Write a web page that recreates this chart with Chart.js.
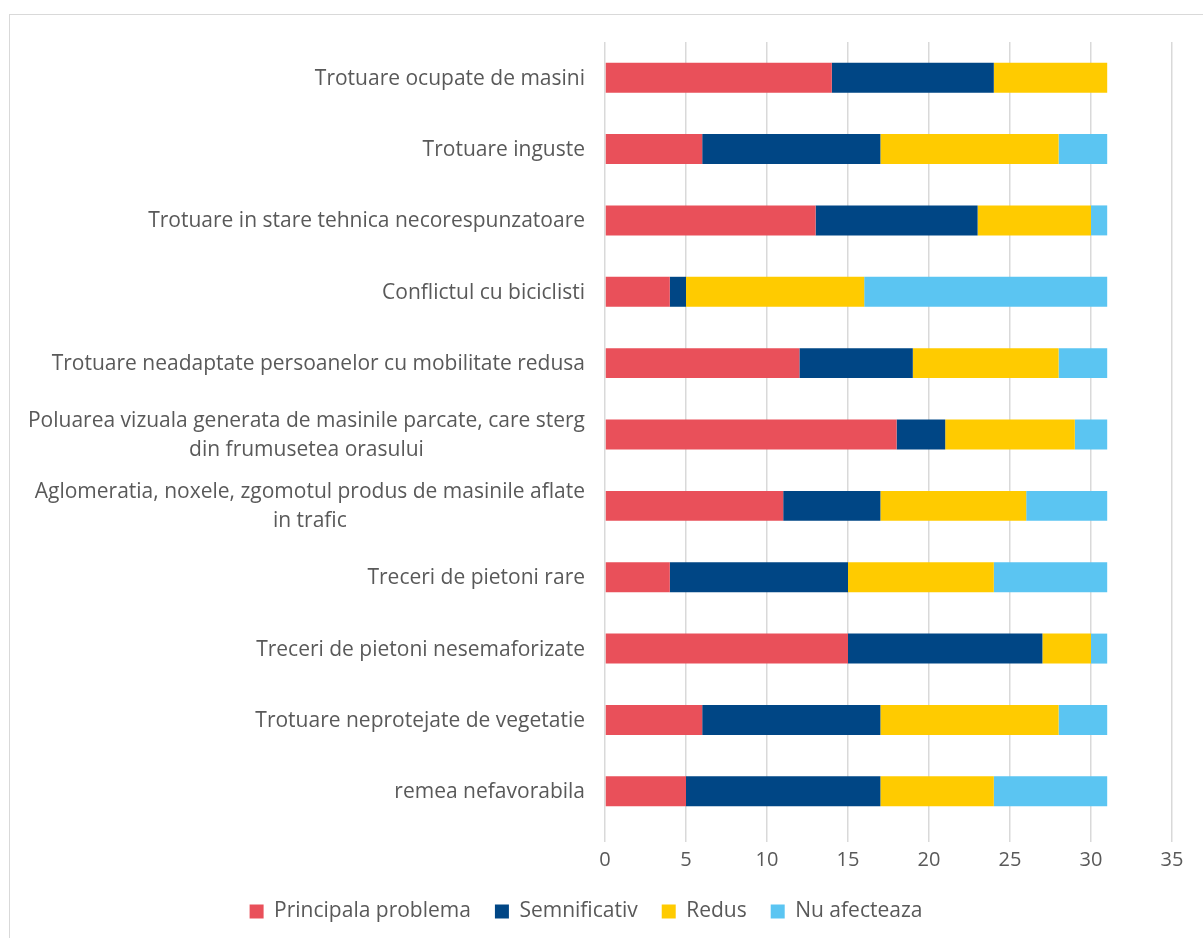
<!DOCTYPE html>
<html>
<head>
<meta charset="utf-8">
<script src="https://cdn.jsdelivr.net/npm/chart.js@4/dist/chart.umd.min.js"></script>
<style>
    html, body { margin: 0; padding: 0; background: #fff; overflow: hidden; }
    #wrap { position: relative; width: 1203px; height: 938px; }
    #frame { position: absolute; left: 9px; top: 14px; width: 1200px; height: 930px; border: 1px solid #d9d9d9; pointer-events: none; }
    canvas { position: absolute; left: 0; top: 0; }
</style>
</head>
<body>
<div id="wrap">
    <canvas id="bar_chart" width="1203" height="938"></canvas>
    <div id="frame"></div>
</div>
<script>
// categories (multi-line ones as arrays)
var Categorii = [
    "Trotuare ocupate de masini",
    "Trotuare inguste",
    "Trotuare in stare tehnica necorespunzatoare",
    "Conflictul cu biciclisti",
    "Trotuare neadaptate persoanelor cu mobilitate redusa",
    ["Poluarea vizuala generata de masinile parcate, care sterg", "din frumusetea orasului"],
    ["Aglomeratia, noxele, zgomotul produs de masinile aflate", "in trafic"],
    "Treceri de pietoni rare",
    "Treceri de pietoni nesemaforizate",
    "Trotuare neprotejate de vegetatie",
    "remea nefavorabila"
];

var PrincipalaProblema = [14, 6, 13, 4, 12, 18, 11, 4, 15, 6, 5];
var Semnificativ = [10, 11, 10, 1, 7, 3, 6, 11, 12, 11, 12];
var Redus = [7, 11, 7, 11, 9, 8, 9, 9, 3, 11, 7];
var NuAfecteaza = [0, 3, 1, 15, 3, 2, 5, 7, 1, 3, 7];

var TickMin = 0;
var TickMax = 35;
var TickStep = 5;

var Style = {
    font: '"Open Sans", "DejaVu Sans", sans-serif',
    size: 21,
    tickSize: 20,
    text: '#595959',
    grid: '#d9d9d9'
};

// y labels: lines of a wrapped label are centred on each other, block is right aligned
var CategoryLabels = {
    id: 'categoryLabels',
    afterDraw: function (chart) {
        var ctx = chart.ctx;
        var scale = chart.scales.y;
        var right = scale.right - 20;
        var lineHeight = 29;

        ctx.save();
        ctx.font = Style.size + 'px ' + Style.font;
        ctx.fillStyle = Style.text;
        ctx.textBaseline = 'middle';
        ctx.textAlign = 'center';

        for (var i = 0; i < Categorii.length; ++i) {
            var lines = [].concat(Categorii[i]);
            var yc = scale.getPixelForTick(i) + 1;
            var widest = 0;
            lines.forEach(function (l) {
                widest = Math.max(widest, ctx.measureText(l).width);
            });
            for (var j = 0; j < lines.length; ++j) {
                ctx.fillText(lines[j], right - widest / 2, yc + (j - (lines.length - 1) / 2) * lineHeight);
            }
        }
        ctx.restore();
    }
};

var Form = {
    Dataset: function (label, data, color) {
        return {
            label: label,
            data: data,
            backgroundColor: color,
            borderWidth: 0,
            barPercentage: 0.42,
            categoryPercentage: 1
        };
    },
    Config: function () {
        return {
            type: 'bar',
            data: {
                labels: Categorii,
                datasets: [
                    Form.Dataset("Principala problema", PrincipalaProblema, '#E9505A'),
                    Form.Dataset("Semnificativ", Semnificativ, '#004685'),
                    Form.Dataset("Redus", Redus, '#FFCB00'),
                    Form.Dataset("Nu afecteaza", NuAfecteaza, '#5BC5F2')
                ]
            },
            options: {
                indexAxis: 'y',
                responsive: false,
                animation: false,
                layout: {
                    padding: { top: 42, right: 31, bottom: 6, left: 0 }
                },
                scales: {
                    x: {
                        stacked: true,
                        min: TickMin,
                        max: TickMax,
                        border: { display: false },
                        grid: {
                            color: Style.grid,
                            lineWidth: 1.5,
                            drawTicks: true,
                            tickLength: 15,
                            tickColor: Style.grid
                        },
                        ticks: {
                            stepSize: TickStep,
                            padding: 6,
                            color: Style.text,
                            font: { family: Style.font, size: Style.tickSize }
                        },
                        afterFit: function (scale) {
                            scale.height = 50;
                        }
                    },
                    y: {
                        stacked: true,
                        border: { display: false },
                        grid: { display: false },
                        ticks: { display: false },
                        afterFit: function (scale) {
                            scale.width = 605;
                        }
                    }
                },
                plugins: {
                    tooltip: { enabled: false },
                    legend: {
                        display: true,
                        position: 'bottom',
                        labels: {
                            boxWidth: 14,
                            boxHeight: 14,
                            padding: 24,
                            color: Style.text,
                            font: { family: Style.font, size: Style.size }
                        }
                    }
                }
            },
            plugins: [CategoryLabels]
        };
    }
};

new Chart(document.getElementById("bar_chart").getContext("2d"), Form.Config());
</script>
</body>
</html>
